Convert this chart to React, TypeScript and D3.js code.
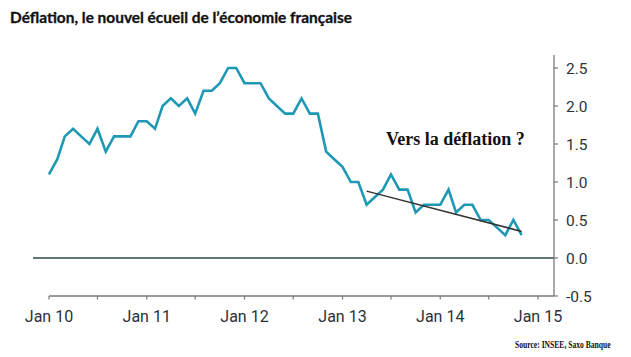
import React from "react";
import * as d3 from "d3";

const startYear = 2010;
const values: number[] = [
  // 2010
  1.1, 1.3, 1.6, 1.7, 1.6, 1.5, 1.7, 1.4, 1.6, 1.6, 1.6, 1.8,
  // 2011
  1.8, 1.7, 2.0, 2.1, 2.0, 2.1, 1.9, 2.2, 2.2, 2.3, 2.5, 2.5,
  // 2012
  2.3, 2.3, 2.3, 2.1, 2.0, 1.9, 1.9, 2.1, 1.9, 1.9, 1.4, 1.3,
  // 2013
  1.2, 1.0, 1.0, 0.7, 0.8, 0.9, 1.1, 0.9, 0.9, 0.6, 0.7, 0.7,
  // 2014
  0.7, 0.9, 0.6, 0.7, 0.7, 0.5, 0.5, 0.4, 0.3, 0.5, 0.3,
];
const trendStart = { year: 2013, month: 3, value: 0.88 };
const trendEnd = { year: 2014, month: 10, value: 0.35 };
const yTicks = [2.5, 2.0, 1.5, 1.0, 0.5, 0.0, -0.5];
const xTickLabels = ["Jan 10", "Jan 11", "Jan 12", "Jan 13", "Jan 14", "Jan 15"];
const title = "Déflation, le nouvel écueil de l\u2019économie française";
const annotation = "Vers la déflation ?";
const source = "Source: INSEE, Saxo Banque";

export default function App() {
  const W = 631, H = 357;
  const x = d3.scaleTime()
    .domain([new Date(2010, 0, 1), new Date(2015, 0, 1)])
    .range([49, 538]);
  const y = d3.scaleLinear().domain([-0.5, 2.5]).range([296, 68]);
  const data = values.map((v, i) => ({ d: new Date(startYear, i, 1), v }));
  const line = d3.line<{ d: Date; v: number }>().x(p => x(p.d)).y(p => y(p.v));
  const halfYearTicks = d3.range(0, 11).map(i => new Date(2010, i * 6, 1));
  const yearTicks = xTickLabels.map((_, i) => new Date(2010 + i, 0, 1));
  const axisX0 = 49, axisX1 = 554;
  const lab = "Roboto, 'Noto Sans', sans-serif";

  return (
    <svg width={W} height={H} style={{ position: "absolute", left: 0, top: 0, background: "#fff" }}>
      <text x={10} y={23} fontFamily="Lato, sans-serif" fontWeight="bold" fontSize={15} fill="#111" stroke="#111" strokeWidth={0.3} textLength={342} lengthAdjust="spacingAndGlyphs">{title}</text>

      {/* zero line */}
      <line x1={33} x2={axisX1} y1={y(0)} y2={y(0)} stroke="#2f4a4a" strokeWidth={1.5} />

      {/* x axis */}
      <line x1={axisX0} x2={axisX1} y1={296} y2={296} stroke="#7a7a7a" strokeWidth={1.3} />
      {halfYearTicks.map((t, i) => (
        <line key={i} x1={x(t)} x2={x(t)} y1={296} y2={299.5} stroke="#7a7a7a" strokeWidth={1.2} />
      ))}
      {yearTicks.map((t, i) => (
        <text key={i} x={x(t)} y={322} textAnchor="middle" fontFamily={lab} fontSize={16} fill="#2b3238">{xTickLabels[i]}</text>
      ))}

      {/* y axis */}
      <line x1={axisX1} x2={axisX1} y1={55} y2={296} stroke="#7a7a7a" strokeWidth={1.3} />
      {yTicks.map((t, i) => (
        <g key={i}>
          <line x1={axisX1} x2={axisX1 + 4} y1={y(t)} y2={y(t)} stroke="#7a7a7a" strokeWidth={1.2} />
          <text x={566} y={y(t)} dy="0.36em" fontFamily={lab} fontSize={15.5} fill="#2b3238">{t.toFixed(1)}</text>
        </g>
      ))}

      {/* series */}
      <path d={line(data) || ""} fill="none" stroke="#1f98b6" strokeWidth={2.6} strokeLinejoin="miter" />

      {/* trend */}
      <line
        x1={x(new Date(trendStart.year, trendStart.month, 1))}
        y1={y(trendStart.value)}
        x2={x(new Date(trendEnd.year, trendEnd.month, 1))}
        y2={y(trendEnd.value)}
        stroke="#333"
        strokeWidth={1.5}
      />

      <text x={386} y={145} fontFamily="'Liberation Serif', 'Times New Roman', serif" fontWeight="bold" fontSize={18} fill="#111">{annotation}</text>
      <g transform="translate(515,348) scale(0.8,1)">
        <text x={0} y={0} fontFamily="'Liberation Serif', 'Times New Roman', serif" fontWeight="bold" fontSize={9.5} fill="#111">{source}</text>
      </g>
    </svg>
  );
}
